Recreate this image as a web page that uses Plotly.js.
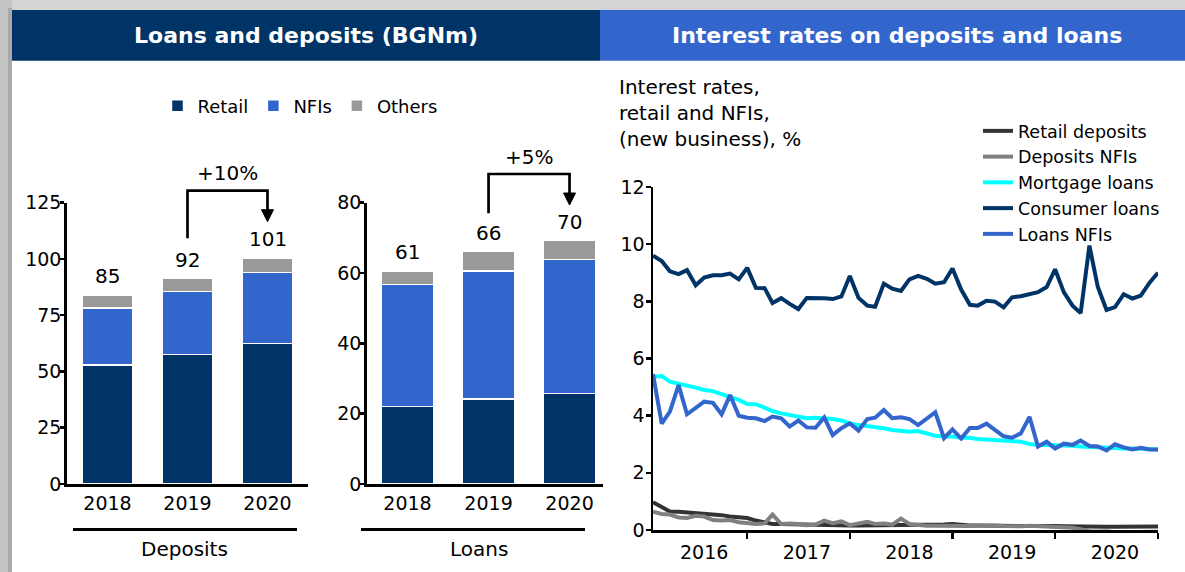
<!DOCTYPE html>
<html>
<head>
<meta charset="utf-8">
<script src="https://cdn.plot.ly/plotly-3.0.1.min.js"></script>
<style>
  html, body { margin: 0; padding: 0; background: #fff; }
  #chart { width: 1185px; height: 572px; }
</style>
</head>
<body>
<div id="chart"></div>
<script>
// Loans and deposits, BGNm
const years = ['2018', '2019', '2020'];
const depRetail = [52.8, 57.6, 62.5];
const depNFIs = [25.3, 27.9, 31.5];
const depOthers = [5.8, 5.8, 6.2];
const depTotals = [85, 92, 101];
const loanRetail = [22.0, 24.2, 25.8];
const loanNFIs = [34.8, 36.4, 38.1];
const loanOthers = [3.8, 5.5, 5.3];
const loanTotals = [61, 66, 70];
const depGrowth = '+10%';
const loanGrowth = '+5%';

// Interest rates (new business), %, monthly Jan 2016 - Dec 2020
const rateYears = [2016, 2017, 2018, 2019, 2020];
const retailDeposits = [
  0.97, 0.79, 0.65, 0.64, 0.62, 0.59, 0.56, 0.56, 0.52, 0.47, 0.44, 0.42,
  0.33, 0.26, 0.21, 0.21, 0.20, 0.19, 0.19, 0.18, 0.18, 0.17, 0.17, 0.16,
  0.16, 0.16, 0.17, 0.17, 0.16, 0.16, 0.16, 0.17, 0.17, 0.18, 0.19, 0.21,
  0.17, 0.16, 0.16, 0.15, 0.15, 0.15, 0.14, 0.14, 0.14, 0.15, 0.14, 0.14,
  0.13, 0.12, 0.12, 0.12, 0.11, 0.11, 0.11, 0.11, 0.11, 0.11, 0.11, 0.12];
const depositsNFIs = [
  0.64, 0.56, 0.54, 0.44, 0.42, 0.50, 0.47, 0.35, 0.33, 0.35, 0.27, 0.24,
  0.21, 0.23, 0.54, 0.21, 0.23, 0.21, 0.17, 0.19, 0.33, 0.24, 0.30, 0.17,
  0.24, 0.29, 0.21, 0.23, 0.19, 0.40, 0.21, 0.17, 0.15, 0.15, 0.14, 0.14,
  0.14, 0.14, 0.15, 0.16, 0.16, 0.14, 0.12, 0.13, 0.15, 0.14, 0.13, 0.12,
  0.10, 0.08, 0.03, -0.04, -0.05, -0.04, -0.08, -0.10, -0.08, -0.06, -0.06, -0.06];
const mortgageLoans = [
  5.36, 5.39, 5.19, 5.13, 5.05, 4.98, 4.90, 4.86, 4.75, 4.66, 4.55, 4.41,
  4.40, 4.28, 4.16, 4.08, 4.02, 3.97, 3.91, 3.93, 3.91, 3.88, 3.83, 3.73,
  3.67, 3.64, 3.62, 3.56, 3.50, 3.46, 3.44, 3.46, 3.38, 3.30, 3.27, 3.27,
  3.23, 3.23, 3.18, 3.16, 3.14, 3.11, 3.09, 3.09, 3.01, 2.97, 2.97, 2.97,
  2.97, 2.95, 2.92, 2.90, 2.88, 2.86, 2.86, 2.85, 2.85, 2.83, 2.83, 2.82];
const consumerLoans = [
  9.60, 9.41, 9.05, 8.95, 9.09, 8.56, 8.83, 8.91, 8.91, 8.97, 8.77, 9.17,
  8.47, 8.46, 7.94, 8.11, 7.91, 7.73, 8.12, 8.12, 8.11, 8.08, 8.17, 8.89,
  8.12, 7.85, 7.81, 8.62, 8.44, 8.36, 8.77, 8.89, 8.79, 8.62, 8.67, 9.15,
  8.41, 7.88, 7.85, 8.02, 7.99, 7.79, 8.14, 8.18, 8.24, 8.32, 8.50, 9.12,
  8.32, 7.85, 7.59, 9.95, 8.50, 7.70, 7.80, 8.25, 8.10, 8.20, 8.65, 9.00];
const loansNFIs = [
  5.45, 3.72, 4.14, 5.07, 4.05, 4.28, 4.49, 4.45, 4.05, 4.72, 4.00, 3.93,
  3.91, 3.81, 3.97, 3.91, 3.62, 3.83, 3.59, 3.58, 3.94, 3.32, 3.56, 3.73,
  3.48, 3.88, 3.93, 4.20, 3.91, 3.94, 3.88, 3.67, 3.88, 4.12, 3.21, 3.52,
  3.20, 3.57, 3.57, 3.72, 3.50, 3.28, 3.23, 3.38, 3.96, 2.92, 3.09, 2.85,
  3.02, 2.98, 3.13, 2.94, 2.92, 2.78, 3.00, 2.89, 2.82, 2.88, 2.82, 2.82];

const months = [];
rateYears.forEach(y => {
  for (let m = 1; m <= 12; m++) months.push(`${y}-${String(m).padStart(2, '0')}-01`);
});

const W = 1185, H = 572;
const FONT = 'DejaVu Sans, Verdana, sans-serif';
const NAVY = '#003366', BLUE = '#3366CC', GREY = '#999999';
// pixel helpers for decorations (headers, brackets, underlines)
const px = v => v / W;
const py = v => 1 - v / H;

function bar(name, x, y, color, xa, ya, legend) {
  return {
    type: 'bar', name: name, x: x, y: y, xaxis: xa, yaxis: ya,
    width: 0.64, showlegend: legend, legendgroup: name, legend: 'legend',
    marker: { color: color, line: { color: '#ffffff', width: 1.5 } },
    hoverinfo: 'skip'
  };
}

function rate(name, y, color) {
  return {
    type: 'scatter', mode: 'lines', name: name, x: months, y: y,
    xaxis: 'x3', yaxis: 'y3', legend: 'legend2',
    line: { color: color, width: 4 }
  };
}

const data = [
  bar('Retail', years, depRetail, NAVY, 'x', 'y', true),
  bar('NFIs', years, depNFIs, BLUE, 'x', 'y', true),
  bar('Others', years, depOthers, GREY, 'x', 'y', true),
  bar('Retail', years, loanRetail, NAVY, 'x2', 'y2', false),
  bar('NFIs', years, loanNFIs, BLUE, 'x2', 'y2', false),
  bar('Others', years, loanOthers, GREY, 'x2', 'y2', false),
  rate('Retail deposits', retailDeposits, '#333333'),
  rate('Deposits NFIs', depositsNFIs, '#808080'),
  rate('Mortgage loans', mortgageLoans, '#00FFFF'),
  rate('Consumer loans', consumerLoans, NAVY),
  rate('Loans NFIs', loansNFIs, BLUE)
];

const tickFont = { family: FONT, size: 19, color: '#000' };
const axisLine = { showline: true, linecolor: '#000', linewidth: 2.5, showgrid: false, zeroline: false };

function catAxis(domain, range) {
  return Object.assign({
    domain: domain, range: range, type: 'category', ticks: '',
    tickfont: tickFont, ticklabelstandoff: 1, fixedrange: true
  }, axisLine);
}

function valAxis(anchor, range, dtick) {
  return Object.assign({
    anchor: anchor, domain: [0.1538, 0.6457], range: range, dtick: dtick,
    ticks: 'outside', ticklen: 4, tickwidth: 2.5, tickcolor: '#000',
    tickfont: tickFont, ticklabelstandoff: -5, fixedrange: true
  }, axisLine);
}

// totals above the stacks
const annotations = [];
years.forEach((yr, i) => {
  annotations.push({
    xref: 'x', yref: 'y', x: i, y: depRetail[i] + depNFIs[i] + depOthers[i],
    text: String(depTotals[i]), showarrow: false, yanchor: 'bottom', yshift: 5,
    font: { family: FONT, size: 20, color: '#000' }
  });
  annotations.push({
    xref: 'x2', yref: 'y2', x: i, y: loanRetail[i] + loanNFIs[i] + loanOthers[i],
    text: String(loanTotals[i]), showarrow: false, yanchor: 'bottom', yshift: 5,
    font: { family: FONT, size: 20, color: '#000' }
  });
});

const textFont = { family: FONT, size: 20, color: '#000' };
function label(xref, x, y, text, font, extra) {
  return Object.assign({
    xref: xref, yref: 'paper', x: x, y: y, text: text, showarrow: false,
    xanchor: 'center', yanchor: 'middle', font: font
  }, extra || {});
}
annotations.push(
  label('paper', px(306), py(35.5), '<b>Loans and deposits (BGNm)</b>', { family: FONT, size: 22, color: '#fff' }),
  label('paper', px(897), py(35.5), '<b>Interest rates on deposits and loans</b>', { family: FONT, size: 22, color: '#fff' }),
  label('x', 1.5, py(172.7), depGrowth, textFont),
  label('x2', 1.5, py(157), loanGrowth, textFont),
  label('paper', px(184), py(549.3), 'Deposits', textFont),
  label('paper', px(479), py(549.3), 'Loans', textFont),
  label('paper', px(617), py(112.5), 'Interest rates,<br>retail and NFIs,<br>(new business), %', textFont,
    { xanchor: 'left', align: 'left' })
);

// growth bracket: from category 1 up, across to category 2, arrow down
function bracket(xa, legBottom, top, tip, halfHead) {
  return [
    { type: 'path', xref: xa, yref: 'paper', layer: 'above',
      path: `M1,${py(legBottom)} V${py(top)} H2 V${py(tip - 10)}`,
      line: { color: '#000', width: 2.7 } },
    { type: 'path', xref: xa, yref: 'paper', layer: 'above',
      path: `M${2 - halfHead},${py(tip - 12)} L${2 + halfHead},${py(tip - 12)} L2,${py(tip)} Z`,
      fillcolor: '#000', line: { color: '#000', width: 1 } }
  ];
}

const shapes = [
  // window shadow
  { type: 'rect', xref: 'paper', yref: 'paper', x0: 0, x1: 1, y0: py(10), y1: 1,
    fillcolor: '#d4d4d4', line: { width: 0 }, layer: 'below' },
  { type: 'rect', xref: 'paper', yref: 'paper', x0: 0, x1: px(12), y0: 0, y1: 1,
    fillcolor: '#c4c4c4', line: { width: 0 }, layer: 'below' },
  { type: 'rect', xref: 'paper', yref: 'paper', x0: px(8), x1: px(12), y0: 0, y1: py(8),
    fillcolor: '#a9a9a9', line: { width: 0 }, layer: 'below' },
  // panel headers
  { type: 'rect', xref: 'paper', yref: 'paper', x0: px(12), x1: px(600), y0: py(60.7), y1: py(10),
    fillcolor: NAVY, line: { width: 0 }, layer: 'below' },
  { type: 'rect', xref: 'paper', yref: 'paper', x0: px(600), x1: 1, y0: py(60.7), y1: py(10),
    fillcolor: BLUE, line: { width: 0 }, layer: 'below' },
  // group underlines
  { type: 'line', xref: 'paper', yref: 'paper', x0: px(73), x1: px(297), y0: py(529.5), y1: py(529.5),
    line: { color: '#000', width: 3 } },
  { type: 'line', xref: 'paper', yref: 'paper', x0: px(361), x1: px(585), y0: py(529.5), y1: py(529.5),
    line: { color: '#000', width: 3 } }
].concat(bracket('x', 238.3, 190.7, 221.7, 0.075), bracket('x2', 213.3, 174, 205, 0.074));

const layout = {
  width: W, height: H,
  margin: { l: 0, r: 0, t: 0, b: 0 },
  paper_bgcolor: '#fff', plot_bgcolor: 'rgba(0,0,0,0)',
  font: { family: FONT, color: '#000' },
  barmode: 'stack',
  showlegend: true,
  legend: {
    orientation: 'h', x: px(300), xanchor: 'center', y: py(106), yanchor: 'middle',
    traceorder: 'normal', font: { family: FONT, size: 18, color: '#000' },
    bgcolor: 'rgba(0,0,0,0)', itemclick: false, itemdoubleclick: false
  },
  legend2: {
    x: px(978), xanchor: 'left', y: py(113), yanchor: 'top', traceorder: 'normal',
    font: { family: FONT, size: 17.5, color: '#000' }, tracegroupgap: 0,
    bgcolor: 'rgba(0,0,0,0)', itemclick: false, itemdoubleclick: false
  },
  xaxis: Object.assign(catAxis([px(66.7), px(308.3)], [-0.51, 2.51]), { anchor: 'y' }),
  yaxis: valAxis('x', [0, 125], 25),
  xaxis2: Object.assign(catAxis([px(366.7), px(603)], [-0.504, 2.413]), { anchor: 'y2' }),
  yaxis2: valAxis('x2', [0, 80], 20),
  xaxis3: Object.assign({
    domain: [px(653), px(1158)], anchor: 'y3', type: 'date',
    range: [months[0], months[months.length - 1]],
    tickmode: 'array',
    tickvals: rateYears.map(y => `${y}-07-01`),
    ticktext: rateYears.map(String),
    ticks: 'outside', ticklen: 0, ticklabelstandoff: 4,
    tickfont: tickFont, fixedrange: true,
    minor: {
      tickmode: 'array', tickvals: rateYears.map(y => `${y}-12-01`),
      ticks: 'outside', ticklen: 6, tickwidth: 2.5, tickcolor: '#000', showgrid: false
    }
  }, axisLine),
  yaxis3: Object.assign({
    anchor: 'x3', domain: [py(530), py(187)], range: [0, 12], dtick: 2,
    ticks: 'outside', ticklen: 5, tickwidth: 2.5, tickcolor: '#000',
    tickfont: tickFont, ticklabelstandoff: -3, fixedrange: true
  }, axisLine),
  annotations: annotations,
  shapes: shapes
};

Plotly.newPlot('chart', data, layout, { displayModeBar: false, staticPlot: true });
</script>
</body>
</html>
